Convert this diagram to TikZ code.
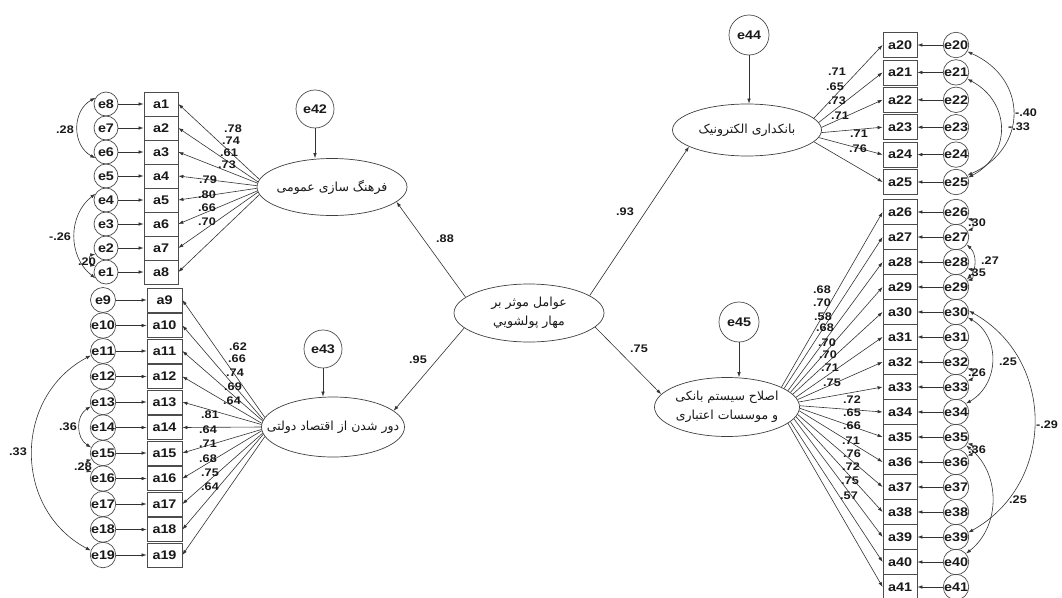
\documentclass[tikz,border=0pt]{standalone}
\usepackage{fontspec}
\usetikzlibrary{shapes.geometric,arrows.meta}
\TeXXeTstate=1
\newfontfamily\lblfont{Liberation Sans}[FakeStretch=1.15]
\newfontfamily\arabicfont[Script=Arabic]{DejaVu Sans}
\tikzset{
  ln/.style={draw=black!80, line width=0.6pt},
  arr/.style={ln, -{Latex[length=5pt,width=3.5pt]}},
  darr/.style={ln, {Latex[length=5pt,width=3.5pt]}-{Latex[length=5pt,width=3.5pt]}},
  obs/.style={draw=black!70, line width=0.8pt, rectangle, minimum width=34pt, minimum height=24pt, inner sep=0pt, text=black!90, font=\lblfont\bfseries\fontsize{12.5}{12.5}\selectfont},
  err/.style={draw=black!70, line width=0.7pt, circle, minimum size=25pt, inner sep=0pt, text=black!90, font=\lblfont\bfseries\fontsize{12.5}{12.5}\selectfont},
  bigerr/.style={err, minimum size=38pt},
  lat/.style={draw=black!75, line width=0.7pt, ellipse, inner sep=0pt},
  lattext/.style={font=\arabicfont\fontsize{12.5}{18.5}\selectfont, align=center, inner sep=0pt, text=black!90},
  coef/.style={font=\lblfont\bfseries\fontsize{11}{11}\selectfont, inner sep=0pt, text=black!90},
}
\begin{document}
\begin{tikzpicture}[x=1pt,y=1pt]
\useasboundingbox (0,0) rectangle (1062,-597);
\fill[white] (0,0) rectangle (1062,-597);

% latent variables
\node[lat, minimum width=150pt, minimum height=57pt] (F1) at (332,-187) {};
\node[lattext] (F1t) at (F1) {\beginR فرهنگ سازی عمومی\endR};
\node[lat, minimum width=143pt, minimum height=60pt] (F2) at (333,-427) {};
\node[lattext] (F2t) at (F2) {\beginR دور شدن از اقتصاد دولتی\endR};
\node[lat, minimum width=150pt, minimum height=58pt] (C) at (529,-313) {};
\node[lattext] (Ct) at (C) {\beginR عوامل موثر بر\endR\\\beginR مهار پولشويي\endR};
\node[lat, minimum width=149pt, minimum height=52pt] (F3) at (747,-130) {};
\node[lattext] (F3t) at (F3) {\beginR بانکداری الکترونیک\endR};
\node[lat, minimum width=145pt, minimum height=59pt] (F4) at (727,-407) {};
\node[lattext] (F4t) at (F4) {\beginR اصلاح سیستم بانکی\endR\\\beginR و موسسات اعتباری\endR};

% disturbance terms
\node[bigerr] (e42) at (315,-109) {e42};
\node[bigerr] (e43) at (323,-349) {e43};
\node[bigerr, minimum size=40pt] (e44) at (749,-35) {e44};
\node[bigerr, minimum size=40pt] (e45) at (739,-322) {e45};
\draw[arr] (e42) -- (e42 |- F1.north);
\draw[arr] (e43) -- (e43 |- F2.north);
\draw[arr] (e44) -- (e44 |- F3.north);
\draw[arr] (e45) -- (e45 |- F4.north);

% structural paths
\draw[arr] (C.166) -- (F1.347);
\draw[arr] (C.193) -- (F2.15);
\draw[arr] (C.16) -- (F3.196);
\draw[arr] (C.348) -- (F4.169);
\node[coef] (s1) at (445,-239) {.88};
\node[coef] (s2) at (418,-360) {.95};
\node[coef] (s3) at (625,-212) {.93};
\node[coef] (s4) at (639,-349) {.75};

% left top block
\foreach \i in {1,...,8}{
  \pgfmathsetmacro\yy{-104-24*(\i-1)}
  \pgfmathtruncatemacro\ei{9-\i}
  \node[obs] (a\i) at (161,\yy) {a\i};
  \node[err, minimum size=24pt] (e\ei) at (106,\yy) {e\ei};
  \draw[arr] (e\ei) -- (a\i);
  \pgfmathtruncatemacro\ang{174+round((\i-1)*12/7)}
  \draw[arr] (F1.\ang) -- (a\i.east);
}
% left bottom block
\foreach \k in {0,...,10}{
  \pgfmathsetmacro\yy{-300-25.5*\k}
  \pgfmathtruncatemacro\n{9+\k}
  \node[obs, minimum width=35pt] (a\n) at (164.5,\yy) {a\n};
  \node[err] (e\n) at (103,\yy) {e\n};
  \draw[arr] (e\n) -- (a\n);
  \pgfmathtruncatemacro\ang{172+round(\k*16/10)}
  \draw[arr] (F2.\ang) -- (a\n.east);
}
% right top block
\foreach \k in {0,...,5}{
  \pgfmathsetmacro\yy{-45-27.4*\k}
  \pgfmathtruncatemacro\n{20+\k}
  \node[obs, minimum height=25pt] (a\n) at (900,\yy) {a\n};
  \node[err] (e\n) at (956,\yy) {e\n};
  \draw[arr] (e\n) -- (a\n);
  \pgfmathtruncatemacro\ang{10-4*\k+(10-4*\k<0)*360}
  \draw[arr] (F3.\ang) -- (a\n.west);
}
% right bottom block
\foreach \k in {0,...,15}{
  \pgfmathsetmacro\yy{-212-25*\k}
  \pgfmathtruncatemacro\n{26+\k}
  \node[obs, minimum height=25pt] (a\n) at (900,\yy) {a\n};
  \node[err] (e\n) at (956,\yy) {e\n};
  \draw[arr] (e\n) -- (a\n);
  \pgfmathtruncatemacro\ang{20-round(\k*35/15)+(20-round(\k*35/15)<0)*360}
  \draw[arr] (F4.\ang) -- (a\n.west);
}

% loadings
\foreach \x/\y/\t [count=\n] in {
  233/129/.78, 231/141/.74, 229/153/.61, 227/165/.73,
  208/180/.79, 207/195/.80, 207/208/.66, 207/222/.70,
  238/347/.62, 237/359/.66, 235/373/.74, 233/387/.69, 232/401/.64,
  210/415/.81, 208/430/.64, 208/444/.71, 208/459/.68, 210/473/.75, 210/487/.64,
  837/72/.71, 835/87/.65, 837/101/.73, 840/116/.71, 859/134/.71, 858/149/.76,
  822/290/.68, 822/303/.70, 823/317/.58, 825/328/.68, 827/343/.70, 828/355/.70, 830/368/.71, 832/383/.75,
  852/400/.72, 852/413/.65, 852/426/.66, 851/441/.71, 852/454/.76, 851/467/.72, 850/481/.75, 849/496/.57}
  {\node[coef] (l\n) at (\x,-\y) {\t};}

% correlations, left
\draw[darr] (e8.150) to[out=209,in=151,looseness=1.14] (e6.210);
\draw[darr] (e4.150) to[out=218,in=142,looseness=1.06] (e1.210);
\draw[darr] (e2.210) to[out=190,in=170,looseness=1.44] (e1.150);
\draw[darr] (e11.200) to[out=208,in=152,looseness=1.16] (e19.160);
\draw[darr] (e13.200) to[out=212,in=148,looseness=1.11] (e15.155);
\draw[darr] (e15.210) to[out=195,in=165,looseness=1.36] (e16.150);
% correlations, right
\draw[darr] (e20.330) to[out=336,in=24,looseness=1.38] (e25.30);
\draw[darr] (e21.330) to[out=332,in=28,looseness=1.28] (e25.20);
\draw[darr] (e26.330) to[out=347,in=13,looseness=1.4] (e27.30);
\draw[darr] (e27.325) to[out=317,in=43,looseness=1.01] (e29.35);
\draw[darr] (e28.330) to[out=347,in=13,looseness=1.4] (e29.30);
\draw[darr] (e30.335) to[out=330,in=30,looseness=1.14] (e34.40);
\draw[darr] (e32.330) to[out=347,in=13,looseness=1.4] (e33.30);
\draw[darr] (e30.5) to[out=331,in=29,looseness=1.15] (e39.20);
\draw[darr] (e35.330) to[out=347,in=13,looseness=1.4] (e36.30);
\draw[darr] (e35.320) to[out=322,in=38,looseness=1.05] (e40.40);

\foreach \x/\y/\t [count=\n] in {
  65/130/.28, 60/237/-.26, 87/262/.20, 18/452/.33, 68/427/.36, 83/467/.28,
  1026/113/-.40, 1019/127/-.33, 977/223/.30, 990/261/.27, 977/273/.35,
  1008/362/.25, 977/373/.26, 1047/425/-.29, 977/450/.36, 1018/500/.25}
  {\node[coef] (r\n) at (\x,-\y) {\t};}
\end{tikzpicture}
\end{document}
